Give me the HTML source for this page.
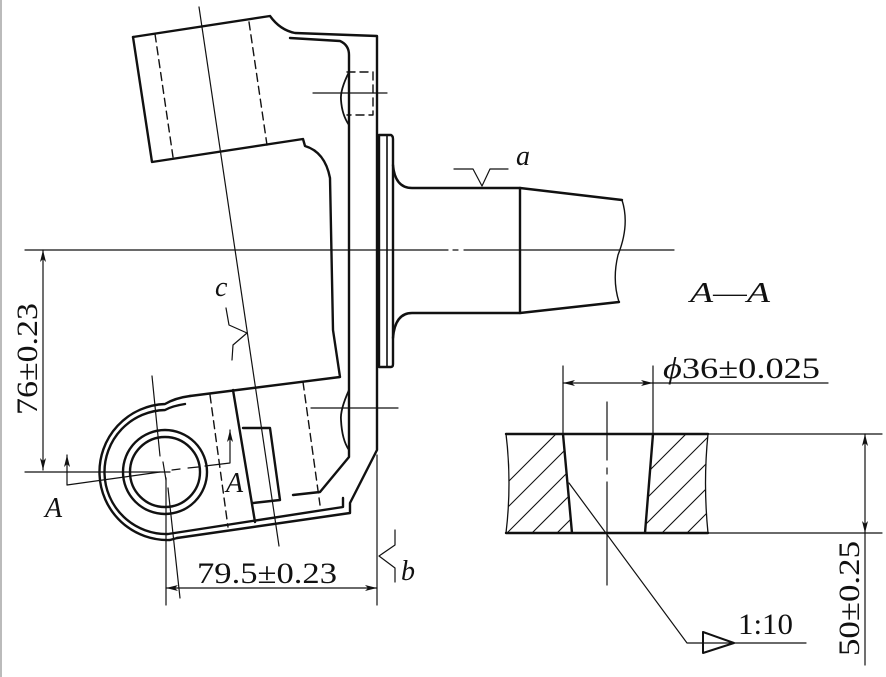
<!DOCTYPE html>
<html><head><meta charset="utf-8"><style>
html,body{margin:0;padding:0;background:#fff;}
svg{display:block;}
text{font-family:"Liberation Serif",serif;fill:#111;}
</style></head><body>
<svg width="886" height="677" viewBox="0 0 886 677" xmlns="http://www.w3.org/2000/svg">
<defs>
<clipPath id="hl"><path d="M506,434 L563,434 L572,533 L506,533 Q512,483 506,434Z"/></clipPath>
<clipPath id="hr"><path d="M653,434 L708,434 Q703,483 708,533 L645,533Z"/></clipPath>
<marker id="ar" viewBox="0 0 12 6" refX="12" refY="3" markerWidth="12" markerHeight="6" orient="auto-start-reverse" markerUnits="userSpaceOnUse"><path d="M0,0 L12,3 L0,6 L3,3Z" fill="#111"/></marker>
</defs>
<rect x="0" y="0" width="2" height="677" fill="#bbb"/>
<g fill="none" stroke="#111" stroke-linecap="round" stroke-linejoin="round">
<g stroke-width="2.4">
<path d="M133,37 L270,16 Q280,30 295,33 L377,36 L377,450 L350,503 L350,513 L177,538"/>
<path d="M133,37 L152,162 L303,139 L305,146 Q325,152 330,178 L333,330 L340,377 L190,396"/>
<path d="M290,38 L340,41 Q349,45 349,55 L349,457 L320,492 L293,495"/>
<path d="M349,72 Q340,90 341,100 Q342,115 349,125" stroke-width="1.8"/>
<path d="M349,390 Q340,410 341,420 Q342,440 349,450" stroke-width="1.8"/>
<circle cx="165" cy="472" r="35"/>
<circle cx="165" cy="472" r="42"/>
<path d="M190,396 Q175,398 165,404 A68,68 0 0,0 170,540 L177,538"/>
<path d="M185,404 Q172,406 165,410 A62,62 0 0,0 168,534 L343,507 L343,498"/>
<path d="M233,390 L255,522"/>
<path d="M243,428 L270,428 L280,500 L253,503"/>
<path d="M379,135 L391,135 Q393,136 393,139 L393,364 Q393,367 391,367 L379,367Z"/>
<path d="M387,136 L387,366" stroke-width="1.6"/>
<path d="M393,165 Q395,188 412,188 L520,188 L622,200"/>
<path d="M393,338 Q395,313 412,313 L520,313 L619,302"/>
<path d="M520,188 L520,313"/>
<path d="M622,200 Q630,225 618,255 Q612,280 619,302" stroke-width="1.4"/>
<path d="M506,434 L708,434 M506,533 L708,533 M563,434 L572,533 M653,434 L645,533"/>
<path d="M506,434 Q512,483 506,533 M708,434 Q703,483 708,533" stroke-width="1.3"/>
<path d="M703,632 L703,653 L734,643Z" stroke-width="2"/>
</g>
<g stroke-width="1.4" stroke-dasharray="8,5">
<path d="M155,34 L173,157 M249,22 L267,145"/>
<path d="M210,395 L228,527 M303,382 L320,505"/>
<path d="M347,72 L373,72 L373,115 L347,115"/>
</g>
<g stroke-width="1.2">
<path d="M199,7 L279,546"/>
<path d="M25,250 L448,250 M453,250 L458,250 M464,250 L674,250"/>
<path d="M313,93 L387,93 M311,408 L398,408"/>
<path d="M152,376 L160,456 M163,462 L166,480 M168,488 L180,598"/>
<path d="M25,472 L170,472"/>
<path d="M43,250 L43,470" marker-start="url(#ar)" marker-end="url(#ar)"/>
<path d="M160,472 L67,485 L67,455" marker-end="url(#ar)"/>
<path d="M172,470 L180,469 M188,468 L198,467 M205,466 L230,463 L230,430" marker-end="url(#ar)"/>
<path d="M166,478 L166,605 M377,455 L377,605"/>
<path d="M166,588 L377,588" marker-start="url(#ar)" marker-end="url(#ar)"/>
<path d="M395,530 L395,545 L379,556 L395,568 L395,582"/>
<path d="M226,308 L229,325 L247,333 M247,333 L233,345 L232,360"/>
<path d="M454,169 L473,169 L482,186 L490,169 L508,169"/>
<path d="M563,366 L563,434 M653,366 L653,434"/>
<path d="M563,383 L653,383" marker-start="url(#ar)" marker-end="url(#ar)"/>
<path d="M653,383 L828,383"/>
<path d="M708,434 L882,434 M708,533 L882,533"/>
<path d="M865,434 L865,533" marker-start="url(#ar)" marker-end="url(#ar)"/>
<path d="M865,533 L865,665"/>
<path d="M607,402 L607,460 M607,468 L607,474 M607,482 L607,585"/>
<path d="M569,483 L687,643 L806,643"/>
</g>
<g stroke-width="1.1" clip-path="url(#hl)">
<path d="M480,560 L620,420 M505,560 L645,420 M530,560 L670,420 M455,560 L595,420 M430,560 L570,420"/>
</g>
<g stroke-width="1.1" clip-path="url(#hr)">
<path d="M610,560 L750,420 M635,560 L775,420 M660,560 L800,420 M585,560 L725,420 M560,560 L700,420"/>
</g>
</g>
<g font-size="30">
<text x="516" y="165" font-style="italic" font-size="28">a</text>
<text x="215" y="296" font-style="italic" font-size="28">c</text>
<text x="401" y="580" font-style="italic" font-size="28">b</text>
<text x="45" y="517" font-style="italic" font-size="28">A</text>
<text x="226" y="492" font-style="italic" font-size="28">A</text>
<text x="690" y="302" font-style="italic" font-size="28" textLength="80" lengthAdjust="spacingAndGlyphs">A—A</text>
<text x="197" y="583" textLength="140" lengthAdjust="spacingAndGlyphs">79.5±0.23</text>
<text x="663" y="378" textLength="157" lengthAdjust="spacingAndGlyphs"><tspan font-style="italic">ϕ</tspan>36±0.025</text>
<text x="738" y="634" textLength="55" lengthAdjust="spacingAndGlyphs">1:10</text>
<text transform="translate(37,415) rotate(-90)" textLength="112" lengthAdjust="spacingAndGlyphs">76±0.23</text>
<text transform="translate(859,656) rotate(-90)" textLength="115" lengthAdjust="spacingAndGlyphs">50±0.25</text>
</g>
</svg>
</body></html>
